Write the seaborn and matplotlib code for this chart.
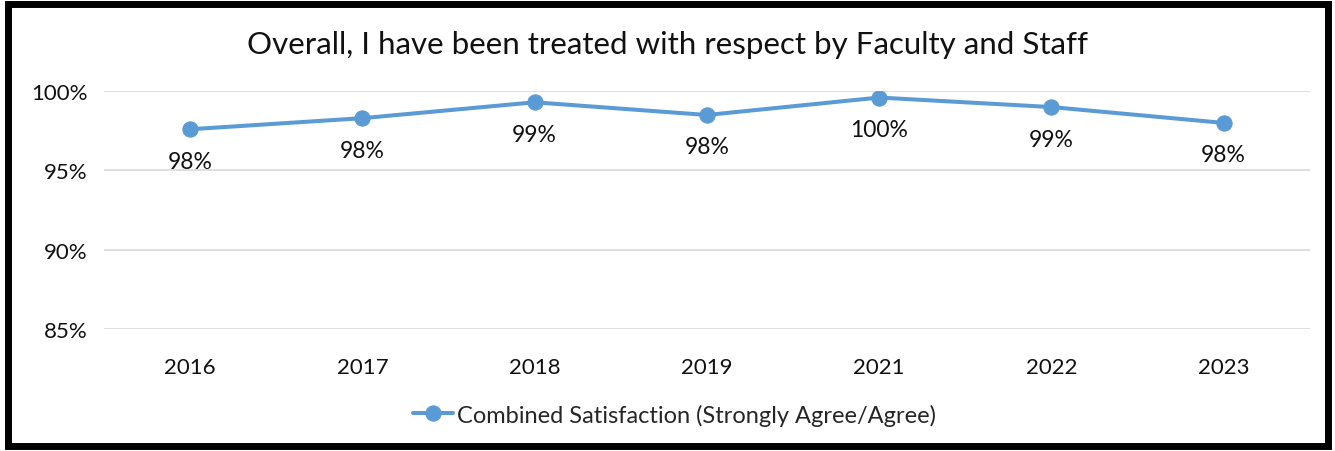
import matplotlib
matplotlib.use('Agg')
import matplotlib.pyplot as plt
import matplotlib.patches as patches
from matplotlib.ticker import FuncFormatter
import seaborn as sns
import pandas as pd

years = ['2016', '2017', '2018', '2019', '2021', '2022', '2023']
satisfaction = [97.6, 98.3, 99.3, 98.5, 99.6, 99.0, 98.0]
labels = ['98%', '98%', '99%', '98%', '100%', '99%', '98%']
series_name = 'Combined Satisfaction (Strongly Agree/Agree)'
title = 'Overall, I have been treated with respect by Faculty and Staff'

df = pd.DataFrame({'year': years, 'value': satisfaction})

sns.set_style('white')
plt.rcParams['font.family'] = ['Lato', 'DejaVu Sans']

blue = '#5B9BD5'
fig = plt.figure(figsize=(13.35, 4.52), dpi=100)
ax = fig.add_axes([0.078, 0.270, 0.903, 0.526])

sns.lineplot(data=df, x='year', y='value', ax=ax, color=blue, linewidth=2.9,
             marker='o', markersize=11, markeredgecolor=blue, label=series_name)

# data labels under each point
for i, (v, lab) in enumerate(zip(satisfaction, labels)):
    ax.annotate(lab, (i, v), xytext=(0, -23), textcoords='offset points',
                ha='center', va='center', fontsize=16.5, color='#111111')

ax.set_xlim(-0.5, 6.5)
ax.set_ylim(85, 100)
ax.set_yticks([85, 90, 95, 100])
ax.yaxis.set_major_formatter(FuncFormatter(lambda v, p: f'{v:.0f}%'))
ax.grid(axis='y', color='#D9D9D9', linewidth=1.2)
ax.grid(axis='x', visible=False)
for s in ax.spines.values():
    s.set_visible(False)
ax.tick_params(axis='both', length=0, labelsize=16, colors='#111111')
ax.tick_params(axis='x', pad=20)
ax.tick_params(axis='y', pad=12)
ax.set_xlabel('')
ax.set_ylabel('')

fig.text(0.5, 0.90, title, ha='center', va='center', fontsize=22.5, color='#111111')

leg = ax.legend(loc='center', bbox_to_anchor=(0.473, -0.36), frameon=False,
                fontsize=17, handlelength=1.7, handletextpad=0.15)

# black frame around the whole chart
fig.patches.append(patches.Rectangle((0.006, 0.010), 0.989, 0.978, transform=fig.transFigure,
                                     fill=False, edgecolor='black', linewidth=5))

fig.savefig('out.png', dpi=100)
